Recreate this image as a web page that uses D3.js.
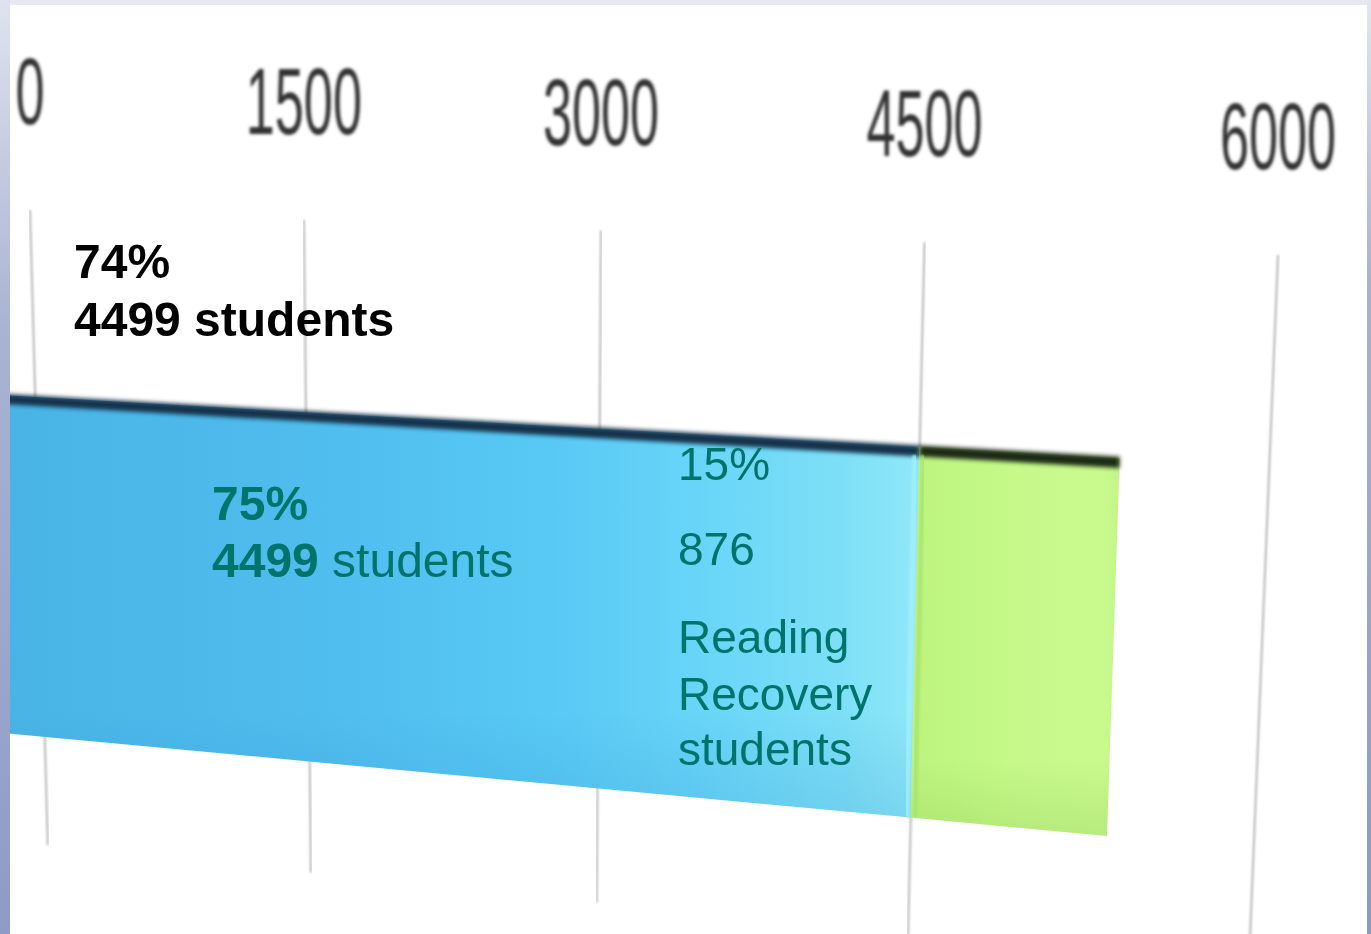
<!DOCTYPE html>
<html><head><meta charset="utf-8">
<script src="https://cdn.jsdelivr.net/npm/d3@7"></script>
<style>html,body{margin:0;padding:0;background:#fff;overflow:hidden}</style>
</head><body>
<svg id="chart" width="1371" height="934" xmlns="http://www.w3.org/2000/svg"></svg>
<script>
// ---------------- data ----------------
const categories = ["Students"];
const seriesNames = ["Other students", "Reading Recovery students"];
const seriesValues = [4499, 876];
const tickValues = [0, 1500, 3000, 4500, 6000];
const tickLabels = ["0", "1500", "3000", "4500", "6000"];
const noteOverallLines = [[["74%", true]], [["4499 students", true]]];
const noteBlueLines = [[["75%", true]], [["4499", true], [" students", false]]];
const noteGreenLines = ["15%", "876", "Reading", "Recovery", "students"];

// ---------------- layout ----------------
const W = 1371, H = 934;
const svg = d3.select("#chart");
const defs = svg.append("defs");

const x = d3.scaleLinear().domain([0, 6000]).range([0, 1]);
const band = d3.scaleBand().domain(categories).range([0.295, 0.83]).padding(0);

// photographed perspective: projective along the value axis, tilted lines
const P = {x0: 30, a: 1047.9, c: -0.15658, A0: 208.9, B0: 0.036, A1: 839.96, B1: 0.105, tilt0: 0.028, tilt1: -0.041};
function warp(t, s) {
  const xt = (P.a * t + P.x0) / (P.c * t + 1);
  const yt = P.A0 + P.B0 * xt;
  const tilt = P.tilt0 + (P.tilt1 - P.tilt0) * t;
  const A = P.A0 + (P.A1 - P.A0) * s, B = P.B0 + (P.B1 - P.B0) * s;
  const px = (xt + tilt * (A - yt)) / (1 - tilt * B);
  return [px, A + B * px];
}
function quad(t0, t1, s0, s1) {
  return [warp(t0, s0), warp(t1, s0), warp(t1, s1), warp(t0, s1)].map(p => p.join(",")).join(" ");
}

// filters
const f1 = defs.append("filter").attr("id", "blurLbl").attr("x", "-20%").attr("y", "-20%").attr("width", "140%").attr("height", "140%");
f1.append("feGaussianBlur").attr("stdDeviation", 1.4);
const f2 = defs.append("filter").attr("id", "blurEdge").attr("x", "-5%").attr("y", "-200%").attr("width", "110%").attr("height", "500%");
f2.append("feGaussianBlur").attr("stdDeviation", 2.0);
const f3 = defs.append("filter").attr("id", "blurSoft").attr("x", "-5%").attr("y", "-5%").attr("width", "110%").attr("height", "110%");
f3.append("feGaussianBlur").attr("stdDeviation", 1.0);

// gradients
function hGrad(id, x1, x2, stops) {
  const g = defs.append("linearGradient").attr("id", id).attr("gradientUnits", "userSpaceOnUse")
    .attr("x1", x1).attr("y1", 0).attr("x2", x2).attr("y2", 0);
  stops.forEach(([o, c]) => g.append("stop").attr("offset", o).attr("stop-color", c));
}
function vGrad(id, stops) {
  const g = defs.append("linearGradient").attr("id", id).attr("x1", 0).attr("y1", 0).attr("x2", 0).attr("y2", 1);
  stops.forEach(([o, c, op]) => g.append("stop").attr("offset", o).attr("stop-color", c).attr("stop-opacity", op));
}
hGrad("gBlue", 0, 920, [[0, "#49b3e5"], [0.35, "#4fbdee"], [0.6, "#58c9f5"], [0.78, "#6ad6f8"], [0.92, "#7ee0f7"], [1, "#90e8f8"]]);
hGrad("gGreen", 895, 1125, [[0, "#ade873"], [0.07, "#bcf47e"], [0.5, "#c5f989"], [0.9, "#c9fa8f"], [1, "#c0f484"]]);
vGrad("gShadeB", [[0, "#1f6fb0", 0], [0.75, "#1f6fb0", 0], [1, "#1f7fc0", 0.16]]);
vGrad("gShadeG", [[0, "#6aa830", 0], [0.8, "#6aa830", 0], [1, "#6aa830", 0.18]]);
vGrad("gFrameL", [[0, "#dfe3ef", 1], [0.35, "#a9b3d3", 1], [1, "#8d9bc6", 1]]);
vGrad("gFrameR", [[0, "#e2e6f0", 1], [0.3, "#a7b1d2", 1], [1, "#8b99c4", 1]]);

// ---------------- gridlines ----------------
const grid = svg.append("g").attr("class", "grid");
grid.selectAll("line").data(tickValues).join("line")
  .attr("x1", d => warp(x(d), 0)[0]).attr("y1", d => warp(x(d), 0)[1])
  .attr("x2", d => warp(x(d), 1)[0]).attr("y2", d => warp(x(d), 1)[1])
  .attr("stroke", "#bdbdbd").attr("stroke-width", 2.2).attr("filter", "url(#blurSoft)");

// tick labels (condensed, blurred)
const lbl = svg.append("g").attr("class", "ticklabels").attr("filter", "url(#blurLbl)");
lbl.selectAll("text").data(tickValues).join("text")
  .attr("transform", (d) => { const p = warp(x(d), 0); return `translate(${p[0]},${p[1] - 86}) scale(0.55,1)`; })
  .attr("text-anchor", "middle")
  .attr("font-family", "Liberation Sans, Arial, sans-serif")
  .attr("font-size", 95)
  .attr("fill", "#333333")
  .text((d, i) => tickLabels[i]);

// ---------------- stacked bar ----------------
const stackData = [Object.fromEntries(seriesNames.map((n, i) => [n, seriesValues[i]]))];
const series = d3.stack().keys(seriesNames)(stackData);
const s0 = band(categories[0]), s1 = s0 + band.bandwidth();
const bleed = x(-400); // bar runs under the left frame
const fills = ["url(#gBlue)", "url(#gGreen)"];
const shades = ["url(#gShadeB)", "url(#gShadeG)"];
const edgeCols = ["#14334c", "#1c2a12"];
const bars = svg.append("g").attr("class", "bars");
series.forEach((ser, i) => {
  const d = ser[0];
  const t0 = d[0] === 0 ? bleed : x(d[0]);
  const t1 = x(d[1]);
  bars.append("polygon").attr("points", quad(t0, t1, s0, s1)).attr("fill", fills[i]);
  bars.append("polygon").attr("points", quad(t0, t1, s0, s1)).attr("fill", shades[i]);
  // dark top rim
  bars.append("polygon").attr("points", quad(t0, t1, s0 - 0.002, s0 + 0.014))
    .attr("fill", edgeCols[i]).attr("filter", "url(#blurEdge)");
});
// seam between segments
{
  const tB = x(series[0][0][1]);
  const a = warp(tB, s0 + 0.012), b = warp(tB, s1);
  bars.append("line").attr("x1", a[0] - 4).attr("y1", a[1]).attr("x2", b[0] - 4).attr("y2", b[1])
    .attr("stroke", "#a2f0fa").attr("stroke-width", 6).attr("filter", "url(#blurSoft)").attr("opacity", 0.8);
  bars.append("line").attr("x1", a[0] + 4).attr("y1", a[1]).attr("x2", b[0] + 4).attr("y2", b[1])
    .attr("stroke", "#a6e26c").attr("stroke-width", 5).attr("filter", "url(#blurSoft)").attr("opacity", 0.7);
}

// ---------------- annotations ----------------
const ann = svg.append("g").attr("font-family", "Liberation Sans, Arial, sans-serif");
function block(lines, xPos, baselines, size, color) {
  lines.forEach((parts, i) => {
    const t = ann.append("text").attr("x", xPos).attr("y", baselines[i]).attr("font-size", size).attr("fill", color);
    parts.forEach(([txt, bold]) => t.append("tspan").attr("font-weight", bold ? "bold" : "normal").text(txt));
  });
}
block(noteOverallLines, 74, [278, 336], 48, "#000000");
block(noteBlueLines, 212, [520, 577], 48, "#00736a");
block(noteGreenLines.map(s => [[s, false]]), 678, [480, 565, 653, 710, 765], 46, "#00736a");

// ---------------- frame ----------------
svg.append("rect").attr("x", 0).attr("y", 0).attr("width", W).attr("height", 5).attr("fill", "#e6e9f2");
svg.append("rect").attr("x", 0).attr("y", 0).attr("width", 10).attr("height", H).attr("fill", "url(#gFrameL)");
svg.append("rect").attr("x", 1367).attr("y", 0).attr("width", 4).attr("height", H).attr("fill", "url(#gFrameR)");
</script>
</body></html>
